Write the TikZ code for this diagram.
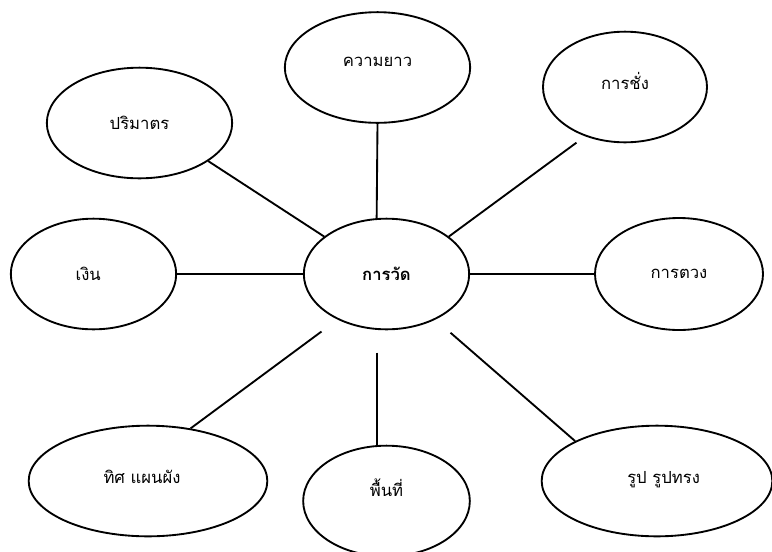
\documentclass[tikz,border=0pt]{standalone}
\usepackage{fontspec}
\newfontfamily\thaifont[Script=Thai]{Loma}
\usepackage{tikz}
\usetikzlibrary{shapes.geometric}

\tikzset{
  bubble/.style={draw, ellipse, line width=1.4pt, inner sep=0pt,
    font=\thaifont\fontsize{12.5}{14}\selectfont},
  spoke/.style={line width=1.4pt}
}

\begin{document}
\begin{tikzpicture}[x=0.75pt,y=-0.75pt]
\useasboundingbox (0,0) rectangle (772,551);

% Centre
\node[bubble, minimum width=124pt, minimum height=83pt, font=\thaifont\bfseries\fontsize{12.5}{14}\selectfont] (C) at (386.5,274) {การวัด};

% Outer bubbles
\node[bubble, minimum width=139pt, minimum height=83pt] (vol) at (139.5,123) {ปริมาตร};
\node[bubble, minimum width=139pt, minimum height=83pt] (len) at (377.5,67.5) {\raisebox{8pt}{ความยาว}};
\node[bubble, minimum width=123pt, minimum height=83pt] (wgt) at (625,87) {\raisebox{9pt}{การชั่ง}};
\node[bubble, minimum width=124pt, minimum height=83pt] (money) at (93.5,274) {\hspace*{-8pt}เงิน};
\node[bubble, minimum width=126pt, minimum height=84pt] (meas) at (679,274) {การตวง};
\node[bubble, minimum width=179pt, minimum height=83pt] (dir) at (148,481) {\hspace*{-9pt}\raisebox{6pt}{ทิศ แผนผัง}};
\node[bubble, minimum width=125pt, minimum height=83pt] (area) at (386.5,501) {\raisebox{20pt}{พื้นที่}};
\node[bubble, minimum width=173pt, minimum height=83pt] (shape) at (657,481) {\hspace*{10pt}\raisebox{6pt}{รูป รูปทรง}};

% Spokes
\draw[spoke] (vol.-29) -- (C.149);
\draw[spoke] (len.south) -- (C.100);
\draw[spoke, shorten <=8pt] (wgt.231) -- (C.31);
\draw[spoke] (money.east) -- (C.west);
\draw[spoke] (C.east) -- (meas.west);
\draw[spoke, shorten >=15pt] (dir.51) -- (C.223);
\draw[spoke, shorten <=17pt] (C.260) -- (C.260 |- area.north);
\draw[spoke, shorten >=15pt] (shape.154) -- (C.-43);
\end{tikzpicture}
\end{document}
